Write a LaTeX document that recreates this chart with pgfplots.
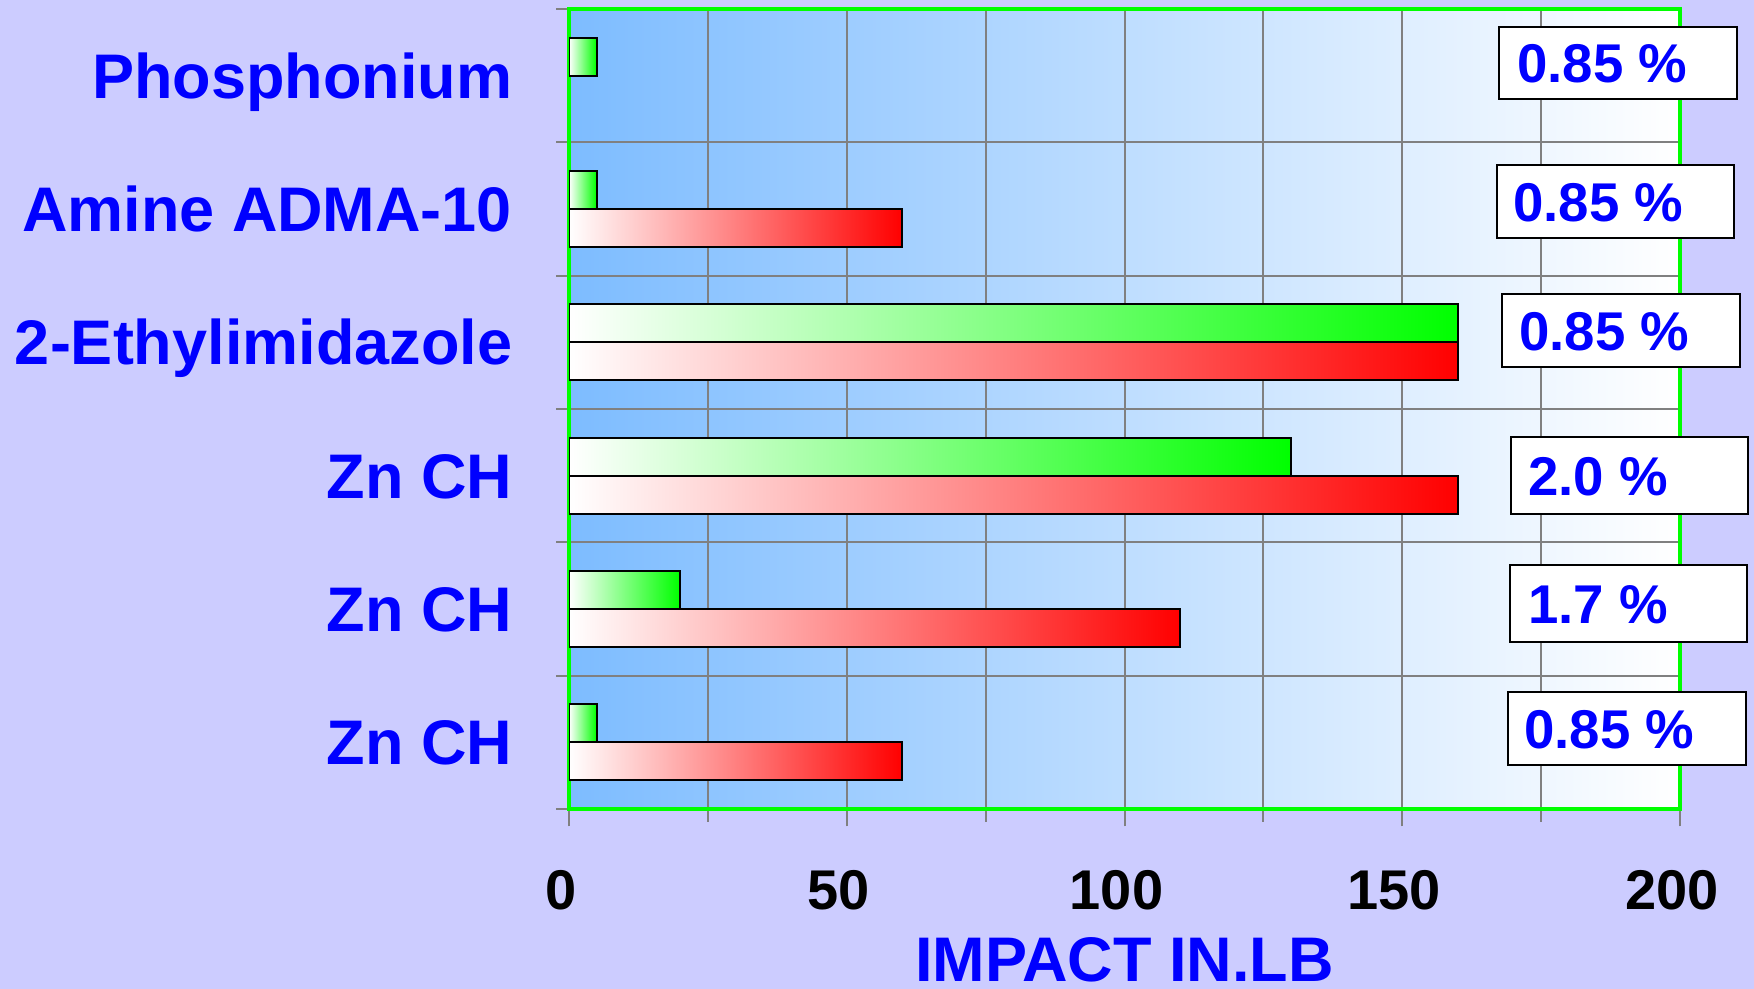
\documentclass[border=0pt]{standalone}
\usepackage{pgfplots}
\pgfplotsset{compat=1.18}
\usepackage{fontspec}
\setmainfont{Liberation Sans}
\definecolor{pagebg}{RGB}{204,204,255}
\definecolor{plotL}{RGB}{125,188,255}
\definecolor{lblue}{RGB}{0,0,255}
\definecolor{bgreen}{RGB}{0,255,0}
\definecolor{bred}{RGB}{255,0,0}
\definecolor{gridgray}{RGB}{128,128,128}

\begin{document}
\begin{tikzpicture}
\fill[pagebg] (0,0) rectangle (877pt,494.5pt);
\begin{axis}[
 at={(284.5pt,90pt)}, anchor=south west,
 scale only axis, width=555.5pt, height=400pt,
 xmin=0, xmax=200, ymin=0.5, ymax=6.5,
 xbar, bar width=19pt,
 axis background/.style={left color=plotL, right color=white},
 axis line style={draw=bgreen, line width=1.75pt},
 xtick={0,50,...,200}, minor xtick={25,75,125,175},
 ytick={1,...,6},
 yticklabels={Zn CH,Zn CH,Zn CH,2-Ethylimidazole,Amine ADMA-10,Phosphonium},
 minor ytick={0.5,1.5,...,6.5},
 xmajorgrids, xminorgrids, yminorgrids,
 grid style={gridgray, line width=1pt},
 minor grid style={gridgray, line width=1pt},
 tick align=center,
 major tick length=17.5pt, minor tick length=13pt,
 tick style={gridgray, line width=1pt},
 major y tick style={draw=none},
 xtick pos=bottom, ytick pos=left,
 /pgf/number format/assume math mode=true,
 xticklabel style={font=\fontsize{28}{32}\selectfont\bfseries, anchor=base, yshift=-41.3pt, xshift=-4pt, inner sep=0pt},
 yticklabel style={font=\fontsize{31.5}{36}\selectfont\bfseries, text=lblue, anchor=base east, xshift=-19.5pt, yshift=-11.3pt, inner sep=0pt},
 xlabel={IMPACT IN.LB},
 xlabel style={font=\fontsize{31.5}{36}\selectfont\bfseries, text=lblue, at={(axis description cs:0.5,0)}, anchor=base, yshift=-86.5pt, inner sep=0pt},
 gbar/.style={xbar, bar shift=9.5pt, draw=black, line width=1pt, left color=white, right color=bgreen},
 rbar/.style={xbar, bar shift=-9.5pt, draw=black, line width=1pt, left color=white, right color=bred},
]
% green series (upper bar of each pair)
\addplot[gbar] coordinates {(5,1)};
\addplot[gbar] coordinates {(20,2)};
\addplot[gbar] coordinates {(130,3)};
\addplot[gbar] coordinates {(160,4)};
\addplot[gbar] coordinates {(5,5)};
\addplot[gbar] coordinates {(5,6)};
% red series (lower bar of each pair)
\addplot[rbar] coordinates {(60,1)};
\addplot[rbar] coordinates {(110,2)};
\addplot[rbar] coordinates {(160,3)};
\addplot[rbar] coordinates {(160,4)};
\addplot[rbar] coordinates {(60,5)};
\end{axis}
\tikzset{pbox/.style={fill=white, draw=black, line width=1pt}, ptxt/.style={anchor=base west, inner sep=0pt, text=lblue, font=\fontsize{27.3}{32}\selectfont\bfseries}}
\draw[pbox] (749.5pt,481pt) rectangle (868.5pt,445pt);
\node[ptxt] at (758.5pt,453pt) {0.85 \%};
\draw[pbox] (748.5pt,412pt) rectangle (867pt,375.5pt);
\node[ptxt] at (756.5pt,383.75pt) {0.85 \%};
\draw[pbox] (751pt,347.5pt) rectangle (870pt,311pt);
\node[ptxt] at (759.5pt,319.25pt) {0.85 \%};
\draw[pbox] (755.5pt,276pt) rectangle (874pt,237.5pt);
\node[ptxt] at (764pt,246.75pt) {2.0 \%};
\draw[pbox] (755pt,212pt) rectangle (873.5pt,173.5pt);
\node[ptxt] at (764pt,182.75pt) {1.7 \%};
\draw[pbox] (754pt,148.5pt) rectangle (873pt,112pt);
\node[ptxt] at (762pt,120.25pt) {0.85 \%};
\pgfresetboundingbox
\useasboundingbox (0,0) rectangle (877pt,494.5pt);
\end{tikzpicture}
\end{document}
